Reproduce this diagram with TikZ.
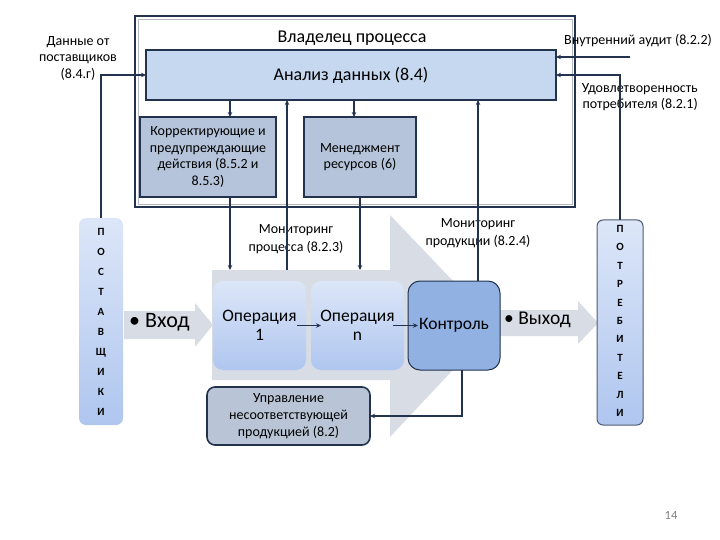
\documentclass[tikz,border=0pt]{standalone}
\usepackage{fontspec}
\setmainfont{Carlito}
\usetikzlibrary{arrows.meta,calc}
\definecolor{dk}{HTML}{22324F}
\definecolor{anfill}{HTML}{C6D8EF}
\definecolor{boxfill}{HTML}{B5C4DA}
\definecolor{procgray}{HTML}{D7DCE5}
\definecolor{optop}{HTML}{DCE6F8}
\definecolor{opbot}{HTML}{AFC6EF}
\definecolor{konfill}{HTML}{90B1E2}
\definecolor{uprfill}{HTML}{B9C5D7}
\tikzset{
  box/.style={draw=dk, line width=1.6pt, anchor=north west, inner sep=2pt, outer sep=0pt, align=center},
  opbox/.style={anchor=north west, rounded corners=10pt, top color=optop, bottom color=opbot, draw=none, outer sep=0pt, align=center, font=\fontsize{17.5}{19}\selectfont, minimum width=93pt, minimum height=89pt},
  lbl/.style={align=center, font=\fontsize{14}{16.5}\selectfont, inner sep=0pt},
  arr/.style={draw=dk, line width=1.4pt, -{Stealth[length=5pt,width=4.5pt]}},
  bar/.style={anchor=north west, rounded corners=7pt, top color=optop, bottom color=opbot, outer sep=0pt},
  letters/.style={align=center, inner sep=0pt, font=\bfseries\fontsize{11}{#1}\selectfont}
}
\begin{document}
\begin{tikzpicture}[x=1pt,y=-1pt]
\useasboundingbox (0,0) rectangle (720,540);
% outer owner frame
\node[box, fill=white, line width=2pt, minimum width=440pt, minimum height=191pt] (owner) at (135,16) {};
\draw[dk!35, line width=0.8pt] ($(owner.north west)+(3,3)$) rectangle ($(owner.south east)+(-3,-3)$);
\node[font=\fontsize{18}{20}\selectfont, inner sep=0pt] (ownerlbl) at (352,38) {Владелец процесса};
% analysis
\node[box, fill=anfill, minimum width=410pt, minimum height=50pt, font=\fontsize{18}{20}\selectfont] (an) at (146,50) {Анализ данных (8.4)};
% corrective / resource
\node[box, fill=boxfill, minimum width=136pt, minimum height=80pt, font=\fontsize{14}{16.5}\selectfont] (corr) at (140,117) {Корректирующие и\\предупреждающие\\действия (8.5.2 и\\8.5.3)};
\node[box, fill=boxfill, minimum width=112pt, minimum height=80pt, font=\fontsize{14}{16.5}\selectfont] (man) at (304,117) {Менеджмент\\ресурсов (6)};
% side labels
\node[lbl] (supdata) at (78,58) {Данные от\\поставщиков\\(8.4.г)};
\node[lbl] (audit) at (638,41) {Внутренний аудит (8.2.2)};
\node[lbl, align=right, anchor=east] (satis) at (698,97) {Удовлетворенность\\потребителя (8.2.1)};
% big process arrow
\fill[procgray] (212,270) -- (390,270) -- (390,215) -- (495,325) -- (390,437) -- (390,380) -- (212,380) -- cycle;
\coordinate (ptop) at (212,270);
% input / output arrows
\fill[procgray] (124,311) -- (195,311) -- (195,303) -- (213,325) -- (195,347) -- (195,339) -- (124,339) -- cycle;
\fill[procgray] (500,310) -- (578,310) -- (578,301) -- (598,323) -- (578,344) -- (578,336) -- (500,336) -- cycle;
\node[font=\fontsize{22}{24}\selectfont, inner sep=0pt, anchor=west] (vhod) at (129,322) {\textbullet\ Вход};
\node[font=\fontsize{19.5}{22}\selectfont, inner sep=0pt, anchor=west] (vyhod) at (504,320) {\textbullet\ Выход};
% operations
\node[opbox] (op1) at (213,281) {Операция\\1};
\node[opbox] (opn) at (311,281) {Операция\\n};
\node[anchor=north west, rounded corners=12pt, draw=dk, line width=1pt, fill=konfill, minimum width=92pt, minimum height=89pt, outer sep=0pt, font=\fontsize{17.5}{20}\selectfont] (kon) at (408,281) {Контроль};
% nonconforming
\node[anchor=north west, rounded corners=8pt, draw=dk, line width=1.6pt, fill=uprfill, minimum width=163pt, minimum height=58pt, outer sep=0pt, align=center, font=\fontsize{14}{17}\selectfont] (upr) at (207,387) {Управление\\несоответствующей\\продукцией (8.2)};
% side bars
\node[bar, minimum width=44pt, minimum height=207pt] (post) at (79,218) {};
\node[letters=20] (postlbl) at (101,322) {П\\О\\С\\Т\\А\\В\\Щ\\И\\К\\И};
\node[bar, draw=dk!80, line width=1pt, minimum width=46pt, minimum height=205pt, rounded corners=6pt] (cons) at (597,220) {};
\node[letters=18.4] (conslbl) at (620,321) {П\\О\\Т\\Р\\Е\\Б\\И\\Т\\Е\\Л\\И};
% monitoring labels
\node[lbl, font=\fontsize{14}{18}\selectfont] (monproc) at (296,239) {Мониторинг\\процесса (8.2.3)};
\node[lbl, font=\fontsize{14}{18}\selectfont] (monprod) at (478,233) {Мониторинг\\продукции (8.2.4)};
% page number
\node[font=\fontsize{12.5}{14}\selectfont, text=gray, inner sep=0pt] (pnum) at (671,515) {14};
% connectors
\coordinate (ca) at (230,0);
\coordinate (cm) at (354,0);
\coordinate (cm2) at (360,0);
\coordinate (cp) at (287,0);
\coordinate (cq) at (478,0);
\coordinate (ck) at (462,0);
\coordinate (auditstart) at (630,57);
\draw[arr] (post.north) |- (an.west);
\draw[arr] (auditstart) -- (an.east |- auditstart);
\draw[arr] (cons.north) |- (an.east);
\draw[arr] (an.south -| ca) -- (corr.north -| ca);
\draw[arr] (an.south -| cm) -- (man.north -| cm);
\draw[arr] (corr.south -| ca) -- (ptop -| ca);
\draw[arr] (man.south -| cm2) -- (ptop -| cm2);
\draw[arr] (ptop -| cp) -- (an.south -| cp);
\draw[arr] (kon.north -| cq) -- (an.south -| cq);
\draw[arr] (kon.south -| ck) |- (upr.east);
\draw[arr, line width=1.1pt] ($(op1.east)+(-9,0)$) -- ($(opn.west)+(10,0)$);
\draw[arr, line width=1.1pt] ($(opn.east)+(-11,0)$) -- ($(kon.west)+(10,0)$);
\end{tikzpicture}
\end{document}
